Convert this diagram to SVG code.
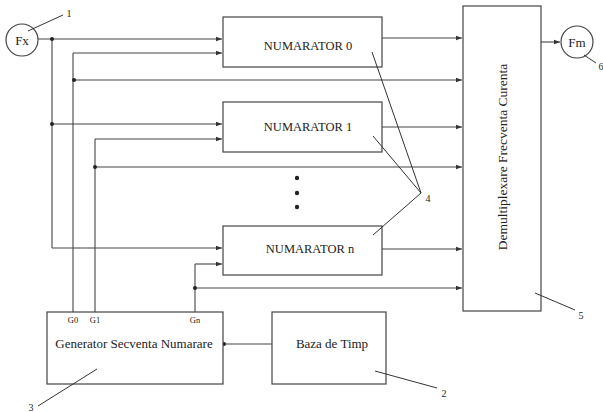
<svg xmlns="http://www.w3.org/2000/svg" width="603" height="412" viewBox="0 0 603 412">
<defs>
<marker id="arr" markerWidth="6" markerHeight="6" refX="6" refY="3" orient="auto" markerUnits="userSpaceOnUse">
<path d="M0,0.8 L6,3 L0,5.2 Z" fill="#333"/>
</marker>
</defs>
<style>
.box{fill:#fff;stroke:#444;stroke-width:1.2}
.ln{fill:none;stroke:#444;stroke-width:1.1}
.a{marker-end:url(#arr)}
.dot{fill:#222}
.t{font-family:"Liberation Serif","Times New Roman",serif;fill:#222}
.lead{fill:none;stroke:#333;stroke-width:1}
</style>
<rect width="603" height="412" fill="#fff"/>
<g id="connectors">
<path class="ln a" d="M38,39 H222"/>
<path class="ln" d="M52,39 V248"/>
<path class="ln a" d="M52,124 H222"/>
<path class="ln a" d="M52,248 H222"/>
<path class="ln" d="M73,312 V53"/>
<path class="ln a" d="M73,53 H222"/>
<path class="ln a" d="M73,80 H462"/>
<path class="ln" d="M95,312 V139"/>
<path class="ln a" d="M95,139 H222"/>
<path class="ln a" d="M95,167 H462"/>
<path class="ln" d="M195,312 V264"/>
<path class="ln a" d="M195,264 H222"/>
<path class="ln a" d="M195,288 H462"/>
<path class="ln a" d="M382,38 H462"/>
<path class="ln a" d="M382,127 H462"/>
<path class="ln a" d="M382,249 H462"/>
<path class="ln a" d="M541,42 H560"/>
<path class="ln" d="M223,344 H272"/>
<circle class="dot" cx="52" cy="39" r="2"/>
<circle class="dot" cx="52" cy="124" r="2"/>
<circle class="dot" cx="74" cy="80" r="2"/>
<circle class="dot" cx="95" cy="167" r="2"/>
<circle class="dot" cx="195" cy="288" r="2"/>
<circle class="dot" cx="224" cy="344" r="2"/>
</g>
<g id="fx">
<circle cx="22" cy="40" r="16" fill="#fff" stroke="#444" stroke-width="1.2"/>
<text class="t" x="22" y="44.5" font-size="13" text-anchor="middle">Fx</text>
<path class="lead" d="M28,31 L63,15"/>
<text class="t" x="69" y="17" font-size="10" text-anchor="middle">1</text>
</g>
<g id="fm">
<circle cx="577" cy="42" r="16" fill="#fff" stroke="#444" stroke-width="1.2"/>
<text class="t" x="577" y="46.5" font-size="13" text-anchor="middle">Fm</text>
<path class="lead" d="M584,55 L596,63"/>
<text class="t" x="601" y="70" font-size="10" text-anchor="middle">6</text>
</g>
<g id="numarator0">
<rect class="box" x="223" y="17" width="159" height="50"/>
<text class="t" x="308" y="50" font-size="12.5" text-anchor="middle">NUMARATOR 0</text>
</g>
<g id="numarator1">
<rect class="box" x="223" y="102" width="159" height="50"/>
<text class="t" x="308" y="131" font-size="12.5" text-anchor="middle">NUMARATOR 1</text>
</g>
<g id="dots">
<circle class="dot" cx="297" cy="178" r="2.2"/>
<circle class="dot" cx="297" cy="193" r="2.2"/>
<circle class="dot" cx="297" cy="207" r="2.2"/>
</g>
<g id="numaratorn">
<rect class="box" x="223" y="226" width="159" height="49"/>
<text class="t" x="310" y="253" font-size="12.5" text-anchor="middle">NUMARATOR n</text>
</g>
<g id="label4">
<path class="lead" d="M372,52 L421,193 M373,136 L421,193 M373,235 L421,193"/>
<text class="t" x="428" y="202" font-size="10" text-anchor="middle">4</text>
</g>
<g id="demux">
<rect class="box" x="463" y="6" width="78" height="305"/>
<text class="t" transform="translate(507,157) rotate(-90)" x="0" y="0" font-size="13.5" text-anchor="middle">Demultiplexare Frecventa Curenta</text>
<path class="lead" d="M535,293 L575,310"/>
<text class="t" x="581" y="319" font-size="10" text-anchor="middle">5</text>
</g>
<g id="generator">
<rect class="box" x="47" y="312" width="176" height="72"/>
<text class="t" x="73" y="323" font-size="8.5" text-anchor="middle">G0</text>
<text class="t" x="95" y="323" font-size="8.5" text-anchor="middle">G1</text>
<text class="t" x="195" y="323" font-size="8.5" text-anchor="middle">Gn</text>
<text class="t" x="134" y="348" font-size="13" text-anchor="middle">Generator Secventa Numarare</text>
<path class="lead" d="M97,369 L38,406"/>
<text class="t" x="31" y="411" font-size="10" text-anchor="middle">3</text>
</g>
<g id="baza">
<rect class="box" x="272" y="312" width="114" height="72"/>
<text class="t" x="332" y="348" font-size="13" text-anchor="middle">Baza de Timp</text>
<path class="lead" d="M375,371 L437,388"/>
<text class="t" x="444" y="397" font-size="10" text-anchor="middle">2</text>
</g>
</svg>
